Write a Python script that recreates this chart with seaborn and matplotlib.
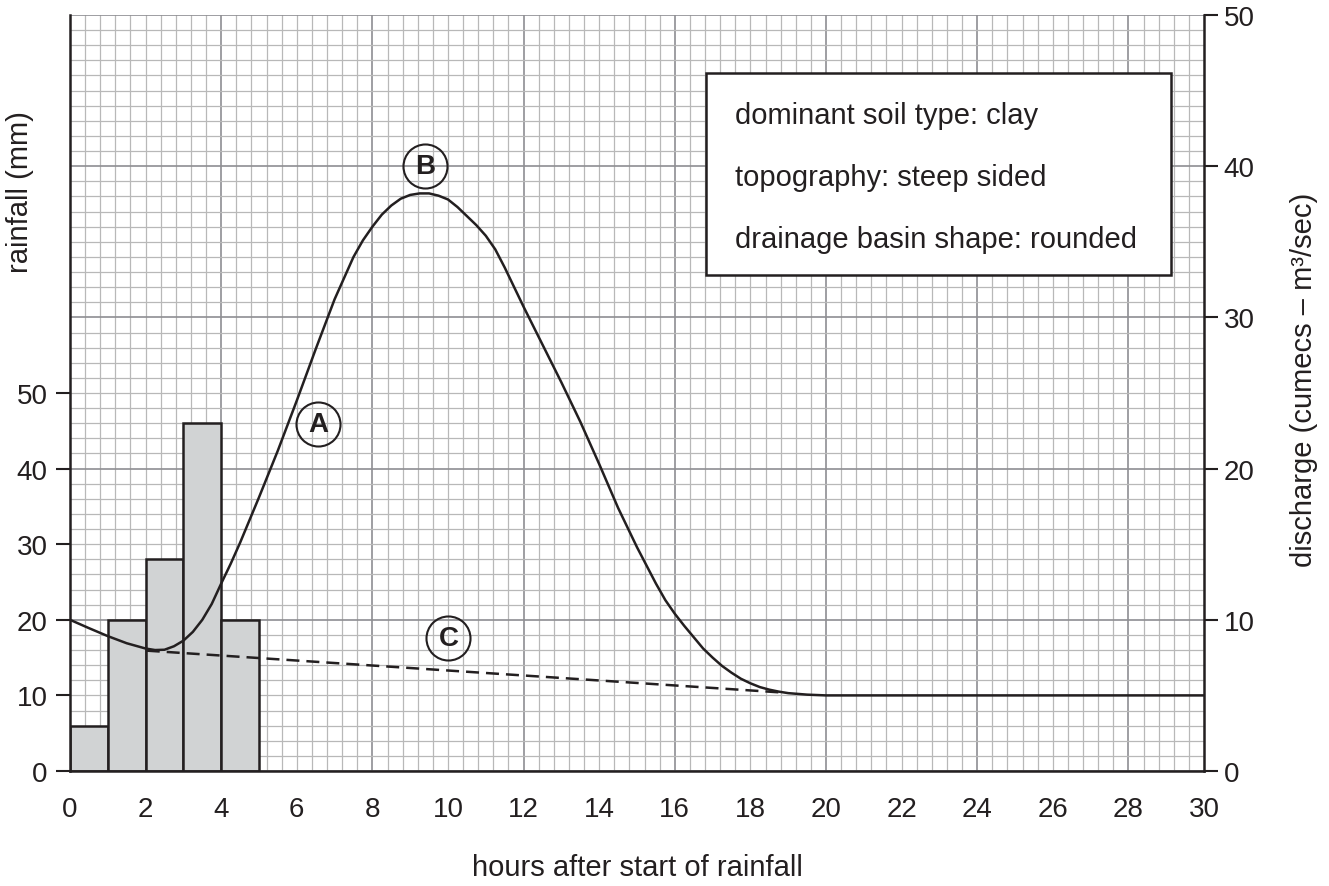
import numpy as np
import pandas as pd
import matplotlib
matplotlib.use("Agg")
import matplotlib.pyplot as plt
from matplotlib.patches import Rectangle
import seaborn as sns

# rainfall bars (mm in each hour; hour given as bin centre)
rain_hour = [0.5, 1.5, 2.5, 3.5, 4.5]
rain_mm = [6, 20, 28, 46, 20]

# storm hydrograph (hours, cumecs)
disch_hours = [0, 0.5, 1.0, 1.5, 2.0, 2.25, 2.5, 2.75, 3.0, 3.25, 3.5, 3.75,
               4.0, 4.25, 4.5, 4.75, 5.0, 5.5, 6.0, 6.5, 7.0, 7.25, 7.5, 7.75,
               8.0, 8.25, 8.5, 8.75, 9.0, 9.25, 9.5, 9.75, 10.0, 10.25, 10.5,
               10.75, 11.0, 11.25, 11.5, 12.0, 12.5, 13.0, 13.5, 14.0, 14.5,
               15.0, 15.25, 15.5, 15.75, 16.0, 16.25, 16.5, 16.75, 17.0, 17.25,
               17.5, 17.75, 18.0, 18.25, 18.5, 18.75, 19.0, 19.5, 20.0, 25.0,
               30.0]
disch_cumecs = [10.0, 9.45, 8.92, 8.45, 8.1, 8.0, 8.02, 8.25, 8.62, 9.2, 10.0,
                11.05, 12.4, 13.7, 15.1, 16.6, 18.1, 21.2, 24.5, 27.9, 31.2,
                32.6, 34.0, 35.1, 36.0, 36.8, 37.4, 37.85, 38.1, 38.2, 38.2,
                38.05, 37.8, 37.3, 36.7, 36.1, 35.4, 34.5, 33.3, 30.7, 28.2,
                25.7, 23.1, 20.3, 17.4, 14.8, 13.6, 12.4, 11.3, 10.4, 9.6, 8.85,
                8.1, 7.5, 6.95, 6.5, 6.1, 5.8, 5.55, 5.38, 5.25, 5.15, 5.05,
                5.0, 5.0, 5.0]

# baseflow separation line (dashed)
base_hours = [2.03, 18.78]
base_cumecs = [7.96, 5.2]

# circled labels
label_text = ["A", "B", "C"]
label_hours = [6.57, 9.39, 10.01]
label_cumecs = [22.95, 40.0, 8.78]

info_lines = ["dominant soil type: clay",
              "topography: steep sided",
              "drainage basin shape: rounded"]

INK = "#231f20"
sns.set_style("white")
plt.rcParams["font.family"] = ["Liberation Sans", "DejaVu Sans"]
plt.rcParams["text.color"] = INK
plt.rcParams["axes.labelcolor"] = INK
plt.rcParams["xtick.color"] = INK
plt.rcParams["ytick.color"] = INK

rain = pd.DataFrame({"hour": rain_hour, "mm": rain_mm})

fig = plt.figure(figsize=(13.29, 8.87), dpi=100)
ax = fig.add_axes([70 / 1329, 1 - 772 / 887, 1134 / 1329, 756 / 887])

# graph paper
for i, xv in enumerate(np.arange(0, 30.0001, 0.4)):
    major = i % 10 == 0
    ax.axvline(xv, color="#8e8e92" if major else "#b8b8b8",
               lw=1.2 if major else 0.9, zorder=0)
for i, yv in enumerate(np.arange(0, 100.0001, 2)):
    major = i % 10 == 0
    ax.axhline(yv, color="#8e8e92" if major else "#b8b8b8",
               lw=1.2 if major else 0.9, zorder=0)

sns.barplot(data=rain, x="hour", y="mm", native_scale=True, width=1,
            color="#d1d3d4", saturation=1, edgecolor=INK, linewidth=1.8,
            ax=ax, zorder=2)
ax.set_xlim(0, 30)
ax.set_ylim(0, 100)

ax2 = ax.twinx()
sns.lineplot(x=disch_hours, y=disch_cumecs, ax=ax2, color=INK, lw=1.8)
sns.lineplot(x=base_hours, y=base_cumecs, ax=ax2, color=INK, lw=1.8,
             linestyle=(0, (5.2, 2.8)))
ax2.set_xlim(0, 30)
ax2.set_ylim(0, 50)

for t, hx, cy in zip(label_text, label_hours, label_cumecs):
    ax2.plot(hx, cy, marker="o", ms=31.7, mfc="none", mec=INK, mew=1.5)
    ax2.text(hx, cy, t, ha="center", va="center", fontsize=20,
             fontweight="bold")

ax2.add_patch(Rectangle((16.83, 32.8), 12.3, 13.36, facecolor="white",
                        edgecolor=INK, lw=1.8, zorder=3))
for line, cy in zip(info_lines, [43.4, 39.3, 35.2]):
    ax2.text(17.59, cy, line, ha="left", va="center", fontsize=21, zorder=4)

# axes, ticks, labels
ax.set_xticks(range(0, 31, 2))
ax.set_xticklabels([str(v) for v in range(0, 31, 2)])
ax.set_yticks(range(0, 51, 10))
ax2.set_yticks(range(0, 51, 10))
ax.tick_params(axis="both", direction="out", length=10, width=1.5,
               labelsize=20, pad=6)
ax.tick_params(axis="x", pad=8)
ax2.tick_params(axis="y", direction="out", length=10, width=1.5,
                labelsize=20, pad=4)
for s in ["top", "right"]:
    ax.spines[s].set_visible(False)
for s in ["top", "left", "bottom"]:
    ax2.spines[s].set_visible(False)
for s in ["left", "bottom"]:
    ax.spines[s].set_linewidth(1.8)
    ax.spines[s].set_color(INK)
ax2.spines["right"].set_linewidth(1.8)
ax2.spines["right"].set_color(INK)

ax.set_xlabel("hours after start of rainfall", fontsize=21)
ax.xaxis.set_label_coords(0.5, -0.109)
ax.set_ylabel("rainfall (mm)", fontsize=21)
ax.yaxis.set_label_coords(-0.032, 0.767)
ax2.set_ylabel("discharge (cumecs – m³/sec)", fontsize=21)
ax2.yaxis.set_label_coords(1.076, 0.519)

fig.savefig("out.png", dpi=100)
